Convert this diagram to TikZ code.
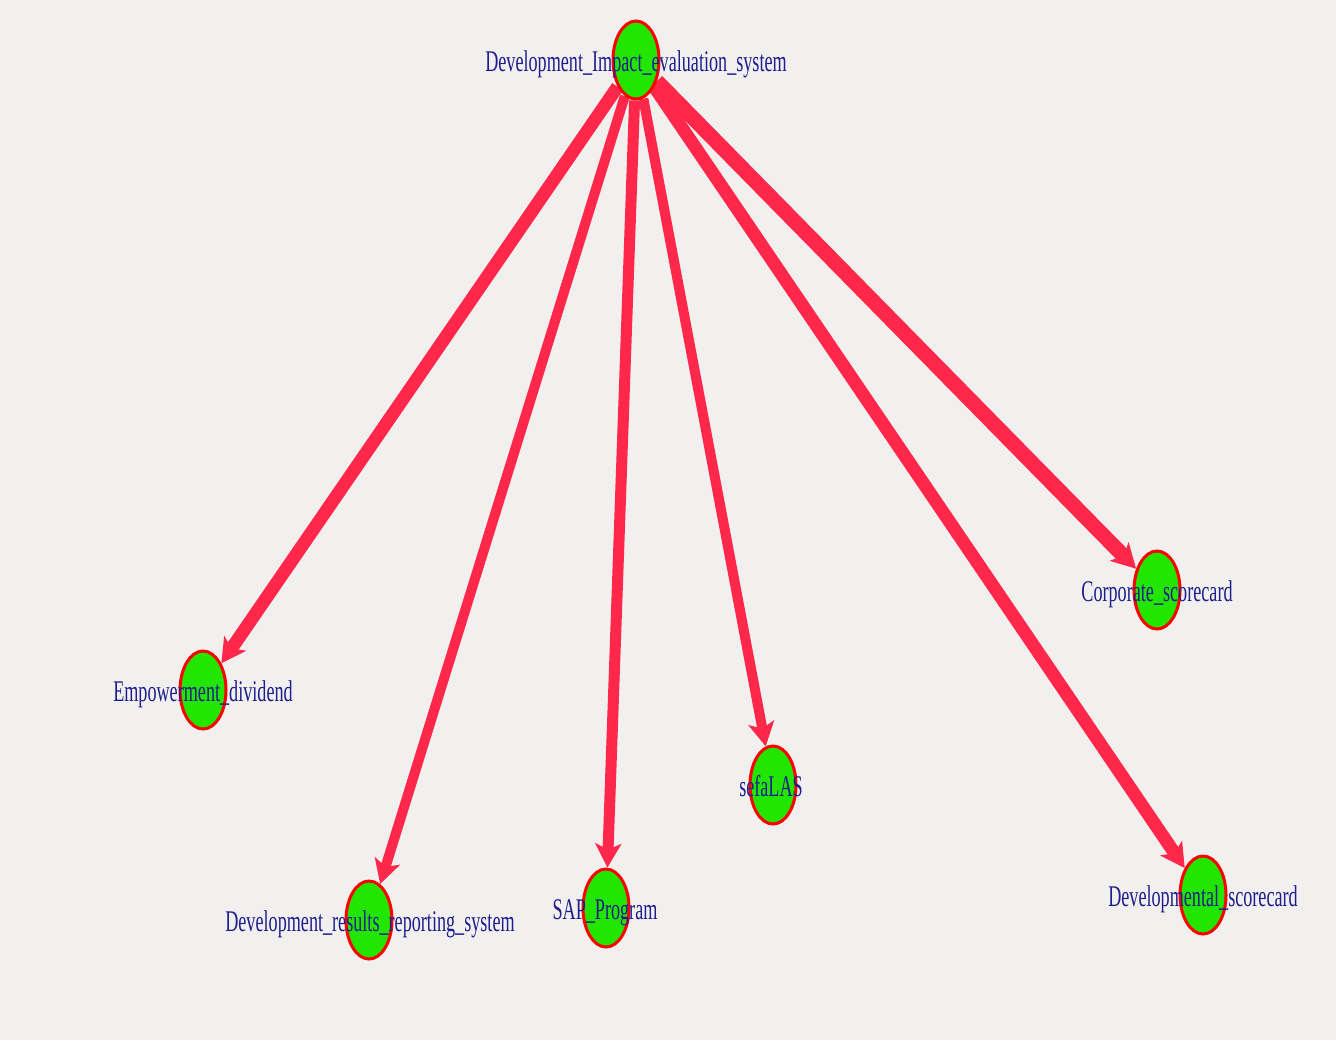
\documentclass[tikz,border=0pt]{standalone}
\usepackage{fontspec}
\newfontfamily\lblfont[FakeStretch=0.605]{Liberation Serif}
\usetikzlibrary{arrows.meta,shapes.geometric}
\definecolor{bgc}{RGB}{242,240,239}
\definecolor{edgec}{RGB}{255,40,75}
\definecolor{nodefill}{RGB}{34,230,0}
\definecolor{nodeline}{RGB}{255,0,0}
\definecolor{textc}{RGB}{30,30,140}
\pgfdeclarelayer{canvas}
\pgfdeclarelayer{bg}
\pgfsetlayers{canvas,bg,main}
\tikzset{
  vtx/.style={ellipse, draw=nodeline, line width=1.5pt, fill=nodefill,
    minimum width=23pt, minimum height=39pt, inner sep=0pt},
  lbl/.style={anchor=base, text=textc, font=\lblfont\fontsize{15pt}{15pt}\selectfont, inner sep=0pt},
  link/.style={draw=edgec, line width=#1, -{Stealth[length=12pt,width=13pt,inset=3pt]}},
}
\begin{document}
\begin{tikzpicture}[x=0.5pt,y=-0.5pt]
  \begin{pgfonlayer}{canvas}
    \fill[bgc] (0,0) rectangle (1336,1040);
  \end{pgfonlayer}
  \useasboundingbox (0,0) rectangle (1336,1040);

  % vertices
  \node[vtx] (dies) at (636,60) {};
  \node[vtx] (emp)  at (203,690) {};
  \node[vtx] (drrs) at (369,920) {};
  \node[vtx] (sap)  at (606,908) {};
  \node[vtx] (sefa) at (773,785) {};
  \node[vtx] (corp) at (1157,590) {};
  \node[vtx] (devs) at (1203,895) {};

  % directed links from the evaluation system
  \begin{pgfonlayer}{bg}
    \draw[link=6.5pt] (dies) -- (emp);
    \draw[link=5pt]   (dies) -- (drrs);
    \draw[link=5.5pt] (dies) -- (sap);
    \draw[link=5pt]   (dies) -- (sefa);
    \draw[link=7.5pt] (dies) -- (corp);
    \draw[link=6.5pt] (dies) -- (devs);
  \end{pgfonlayer}

  % vertex labels
  \node[lbl] (ldies) at (636,71) {Development\_Impact\_evaluation\_system};
  \node[lbl] (lemp)  at (203,701) {Empowerment\_dividend};
  \node[lbl] (ldrrs) at (370,931) {Development\_results\_reporting\_system};
  \node[lbl] (lsap)  at (605,919) {SAP\_Program};
  \node[lbl] (lsefa) at (771,796) {sefaLAS};
  \node[lbl] (lcorp) at (1157,601) {Corporate\_scorecard};
  \node[lbl] (ldevs) at (1203,906) {Developmental\_scorecard};
\end{tikzpicture}
\end{document}
